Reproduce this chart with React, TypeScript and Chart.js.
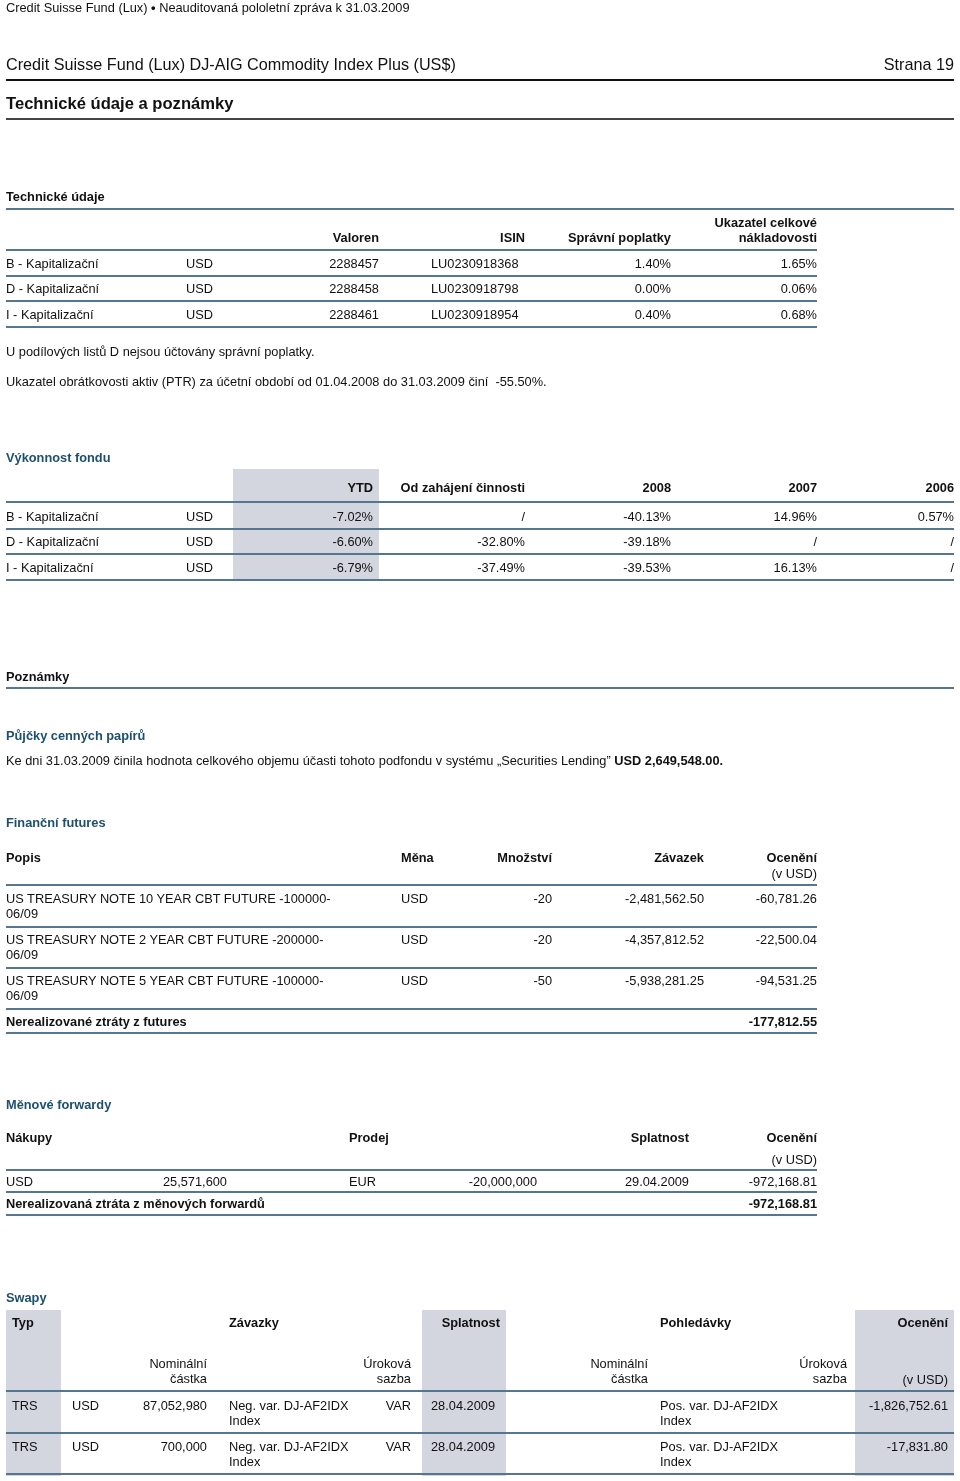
import React, { useEffect, useRef } from "react";
import { Chart, registerables } from "chart.js";

Chart.register(...registerables);

// ---- Technické údaje ----
const techClasses = ["B - Kapitalizační", "D - Kapitalizační", "I - Kapitalizační"];
const techCurrency = ["USD", "USD", "USD"];
const valoren = ["2288457", "2288458", "2288461"];
const isin = ["LU0230918368", "LU0230918798", "LU0230918954"];
const mgmtFees = ["1.40%", "0.00%", "0.40%"];
const terValues = ["1.65%", "0.06%", "0.68%"];

// ---- Výkonnost fondu ----
const perfHeaders = ["YTD", "Od zahájení činnosti", "2008", "2007", "2006"];
const perfYTD = ["-7.02%", "-6.60%", "-6.79%"];
const perfSince = ["/", "-32.80%", "-37.49%"];
const perf2008 = ["-40.13%", "-39.18%", "-39.53%"];
const perf2007 = ["14.96%", "/", "16.13%"];
const perf2006 = ["0.57%", "/", "/"];

// ---- Finanční futures ----
const futDesc = [
  "US TREASURY NOTE 10 YEAR CBT FUTURE -100000-\n06/09",
  "US TREASURY NOTE 2 YEAR CBT FUTURE -200000-\n06/09",
  "US TREASURY NOTE 5 YEAR CBT FUTURE -100000-\n06/09",
];
const futCcy = ["USD", "USD", "USD"];
const futQty = ["-20", "-20", "-50"];
const futCommit = ["-2,481,562.50", "-4,357,812.52", "-5,938,281.25"];
const futValue = ["-60,781.26", "-22,500.04", "-94,531.25"];
const futTotal = "-177,812.55";

// ---- Měnové forwardy ----
const fwdBuyCcy = ["USD"];
const fwdBuyAmt = ["25,571,600"];
const fwdSellCcy = ["EUR"];
const fwdSellAmt = ["-20,000,000"];
const fwdMaturity = ["29.04.2009"];
const fwdValue = ["-972,168.81"];
const fwdTotal = "-972,168.81";

// ---- Swapy ----
const swapType = ["TRS", "TRS"];
const swapCcy = ["USD", "USD"];
const swapNominal = ["87,052,980", "700,000"];
const swapPayLeg = ["Neg. var. DJ-AF2IDX\nIndex", "Neg. var. DJ-AF2IDX\nIndex"];
const swapRate = ["VAR", "VAR"];
const swapMaturity = ["28.04.2009", "28.04.2009"];
const swapRecLeg = ["Pos. var. DJ-AF2IDX\nIndex", "Pos. var. DJ-AF2IDX\nIndex"];
const swapValue = ["-1,826,752.61", "-17,831.80"];

const FONT = '"Liberation Sans", Arial, Helvetica, sans-serif';
const BLUE = "#1d4f6e";
const RULE = "#56768f";
const SHADE = "#d3d5df";
const TXT = "#111";
const BODY = 12.8;

type TProps = {
  x: number;
  y: number;
  r?: boolean;
  b?: boolean;
  c?: string;
  s?: number;
  children: React.ReactNode;
};

function T({ x, y, r, b, c, s, children }: TProps) {
  const size = s || BODY;
  const lh = 15.5;
  const style: React.CSSProperties = {
    position: "absolute",
    top: y - lh / 2 + 0.5,
    lineHeight: lh + "px",
    fontSize: size,
    fontWeight: b ? 700 : 400,
    color: c || TXT,
    whiteSpace: "pre",
    textAlign: r ? "right" : "left",
  };
  if (r) style.right = 960 - x;
  else style.left = x;
  return <div style={style}>{children}</div>;
}

function HR({ x1, x2, y, c, h }: { x1: number; x2: number; y: number; c?: string; h?: number }) {
  return (
    <div
      style={{
        position: "absolute",
        left: x1,
        top: y - (h || 2) / 2,
        width: x2 - x1,
        height: h || 2,
        background: c || RULE,
      }}
    />
  );
}

function Box({ x1, x2, y1, y2 }: { x1: number; x2: number; y1: number; y2: number }) {
  return (
    <div
      style={{ position: "absolute", left: x1, top: y1, width: x2 - x1, height: y2 - y1, background: SHADE }}
    />
  );
}

function BgChart() {
  const ref = useRef<HTMLCanvasElement>(null);
  useEffect(() => {
    if (!ref.current) return;
    const chart = new Chart(ref.current, {
      type: "bar",
      data: { labels: [], datasets: [] },
      options: {
        animation: false,
        responsive: false,
        plugins: { legend: { display: false }, tooltip: { enabled: false } },
        scales: { x: { display: false }, y: { display: false } },
      },
    });
    return () => chart.destroy();
  }, []);
  return (
    <canvas
      ref={ref}
      width={960}
      height={1481}
      style={{ position: "absolute", left: 0, top: 0, width: 960, height: 1481, pointerEvents: "none" }}
    />
  );
}

export default function App() {
  const techRowsY = [263, 288, 314];
  const perfRowsY = [516, 541, 567];
  const futRowsY = [898, 939, 980];
  const swapRowsY = [1405, 1446];
  const perfCols = [perfYTD, perfSince, perf2008, perf2007, perf2006];
  const perfColX = [373, 525, 671, 817, 954];

  return (
    <div
      style={{
        position: "absolute",
        left: 0,
        top: 0,
        width: 960,
        height: 1481,
        background: "#fff",
        fontFamily: FONT,
        overflow: "hidden",
      }}
    >
      <BgChart />
      {/* Header */}
      <T x={6} y={7}>
        Credit Suisse Fund (Lux) <b>•</b> Neauditovaná pololetní zpráva k 31.03.2009
      </T>
      <T x={6} y={64} s={16.2}>Credit Suisse Fund (Lux) DJ-AIG Commodity Index Plus (US$)</T>
      <T x={954} y={64} r s={16.2}>Strana 19</T>
      <HR x1={6} x2={954} y={80} c="#111" h={2} />
      <T x={6} y={103} s={16.6} b>Technické údaje a poznámky</T>
      <HR x1={6} x2={954} y={119} c="#444" h={1.5} />

      {/* Technické údaje */}
      <T x={6} y={196} b>Technické údaje</T>
      <HR x1={6} x2={954} y={209} />
      <T x={379} y={237} r b>Valoren</T>
      <T x={525} y={237} r b>ISIN</T>
      <T x={671} y={237} r b>Správní poplatky</T>
      <T x={817} y={222} r b>{"Ukazatel celkové\nnákladovosti"}</T>
      <HR x1={6} x2={817} y={250} />
      {techClasses.map((n, i) => (
        <React.Fragment key={"t" + i}>
          <T x={6} y={techRowsY[i]}>{n}</T>
          <T x={186} y={techRowsY[i]}>{techCurrency[i]}</T>
          <T x={379} y={techRowsY[i]} r>{valoren[i]}</T>
          <T x={431} y={techRowsY[i]}>{isin[i]}</T>
          <T x={671} y={techRowsY[i]} r>{mgmtFees[i]}</T>
          <T x={817} y={techRowsY[i]} r>{terValues[i]}</T>
          <HR x1={6} x2={817} y={techRowsY[i] + 12.5} />
        </React.Fragment>
      ))}
      <T x={6} y={351}>U podílových listů D nejsou účtovány správní poplatky.</T>
      <T x={6} y={381}>Ukazatel obrátkovosti aktiv (PTR) za účetní období od 01.04.2008 do 31.03.2009 činí  -55.50%.</T>

      {/* Výkonnost fondu */}
      <T x={6} y={457} b c={BLUE}>Výkonnost fondu</T>
      <Box x1={233} x2={379} y1={469} y2={580} />
      {perfHeaders.map((h, j) => (
        <T key={"ph" + j} x={perfColX[j]} y={487} r b>{h}</T>
      ))}
      <HR x1={6} x2={954} y={502} />
      {techClasses.map((n, i) => (
        <React.Fragment key={"p" + i}>
          <T x={6} y={perfRowsY[i]}>{n}</T>
          <T x={186} y={perfRowsY[i]}>{techCurrency[i]}</T>
          {perfCols.map((col, j) => (
            <T key={"pc" + j} x={perfColX[j]} y={perfRowsY[i]} r>{col[i]}</T>
          ))}
          <HR x1={6} x2={954} y={perfRowsY[i] + 12.5} />
        </React.Fragment>
      ))}

      {/* Poznámky */}
      <T x={6} y={676} b>Poznámky</T>
      <HR x1={6} x2={954} y={688} />
      <T x={6} y={735} b c={BLUE}>Půjčky cenných papírů</T>
      <T x={6} y={760}>
        Ke dni 31.03.2009 činila hodnota celkového objemu účasti tohoto podfondu v systému „Securities Lending”{" "}
        <b>USD 2,649,548.00.</b>
      </T>

      {/* Finanční futures */}
      <T x={6} y={822} b c={BLUE}>Finanční futures</T>
      <T x={6} y={857} b>Popis</T>
      <T x={401} y={857} b>Měna</T>
      <T x={552} y={857} r b>Množství</T>
      <T x={704} y={857} r b>Závazek</T>
      <T x={817} y={857} r b>Ocenění</T>
      <T x={817} y={873} r>(v USD)</T>
      <HR x1={6} x2={817} y={885} />
      {futDesc.map((d, i) => (
        <React.Fragment key={"f" + i}>
          <T x={6} y={futRowsY[i]}>{d}</T>
          <T x={401} y={futRowsY[i]}>{futCcy[i]}</T>
          <T x={552} y={futRowsY[i]} r>{futQty[i]}</T>
          <T x={704} y={futRowsY[i]} r>{futCommit[i]}</T>
          <T x={817} y={futRowsY[i]} r>{futValue[i]}</T>
          <HR x1={6} x2={817} y={futRowsY[i] + 29} />
        </React.Fragment>
      ))}
      <T x={6} y={1021} b>Nerealizované ztráty z futures</T>
      <T x={817} y={1021} r b>{futTotal}</T>
      <HR x1={6} x2={817} y={1033} />

      {/* Měnové forwardy */}
      <T x={6} y={1104} b c={BLUE}>Měnové forwardy</T>
      <T x={6} y={1137} b>Nákupy</T>
      <T x={349} y={1137} b>Prodej</T>
      <T x={689} y={1137} r b>Splatnost</T>
      <T x={817} y={1137} r b>Ocenění</T>
      <T x={817} y={1159} r>(v USD)</T>
      <HR x1={6} x2={817} y={1170} />
      {fwdBuyCcy.map((c, i) => (
        <React.Fragment key={"w" + i}>
          <T x={6} y={1181}>{c}</T>
          <T x={227} y={1181} r>{fwdBuyAmt[i]}</T>
          <T x={349} y={1181}>{fwdSellCcy[i]}</T>
          <T x={537} y={1181} r>{fwdSellAmt[i]}</T>
          <T x={689} y={1181} r>{fwdMaturity[i]}</T>
          <T x={817} y={1181} r>{fwdValue[i]}</T>
        </React.Fragment>
      ))}
      <HR x1={6} x2={817} y={1192} />
      <T x={6} y={1203} b>Nerealizovaná ztráta z měnových forwardů</T>
      <T x={817} y={1203} r b>{fwdTotal}</T>
      <HR x1={6} x2={817} y={1215} />

      {/* Swapy */}
      <T x={6} y={1297} b c={BLUE}>Swapy</T>
      <Box x1={6} x2={61} y1={1310} y2={1476} />
      <Box x1={422} x2={506} y1={1310} y2={1476} />
      <Box x1={855} x2={954} y1={1310} y2={1476} />
      <T x={12} y={1322} b>Typ</T>
      <T x={229} y={1322} b>Závazky</T>
      <T x={500} y={1322} r b>Splatnost</T>
      <T x={660} y={1322} b>Pohledávky</T>
      <T x={948} y={1322} r b>Ocenění</T>
      <T x={207} y={1363} r>{"Nominální\nčástka"}</T>
      <T x={411} y={1363} r>{"Úroková\nsazba"}</T>
      <T x={648} y={1363} r>{"Nominální\nčástka"}</T>
      <T x={847} y={1363} r>{"Úroková\nsazba"}</T>
      <T x={948} y={1379} r>(v USD)</T>
      <HR x1={6} x2={954} y={1391} />
      {swapType.map((t, i) => (
        <React.Fragment key={"s" + i}>
          <T x={12} y={swapRowsY[i]}>{t}</T>
          <T x={72} y={swapRowsY[i]}>{swapCcy[i]}</T>
          <T x={207} y={swapRowsY[i]} r>{swapNominal[i]}</T>
          <T x={229} y={swapRowsY[i]}>{swapPayLeg[i]}</T>
          <T x={411} y={swapRowsY[i]} r>{swapRate[i]}</T>
          <T x={431} y={swapRowsY[i]}>{swapMaturity[i]}</T>
          <T x={660} y={swapRowsY[i]}>{swapRecLeg[i]}</T>
          <T x={948} y={swapRowsY[i]} r>{swapValue[i]}</T>
          <HR x1={6} x2={954} y={swapRowsY[i] + 28} />
        </React.Fragment>
      ))}
    </div>
  );
}
